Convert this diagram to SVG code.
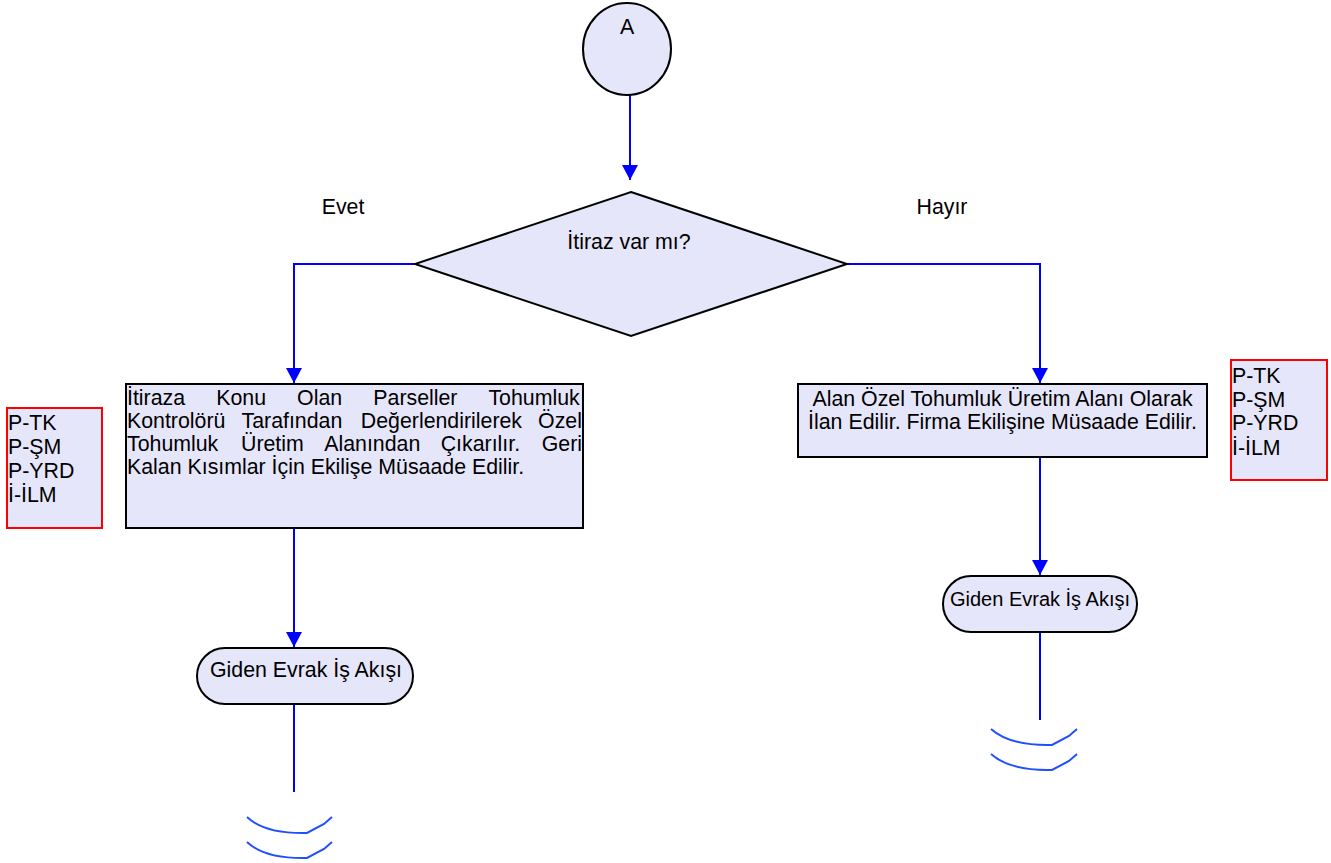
<svg xmlns="http://www.w3.org/2000/svg" width="1331" height="863" viewBox="0 0 1331 863">
<defs>
<style>
.shape{fill:#e6e6fa;stroke:#000;stroke-width:2}
.note{fill:#e6e6fa;stroke:#ff0000;stroke-width:2}
.t{font-family:"Liberation Sans",Arial,sans-serif;font-size:21.33px;fill:#000}
.c{text-anchor:middle}
.e{text-anchor:end}
.conn{fill:none;stroke:#0000ff;stroke-width:2}
.off{fill:none;stroke:#1f4fff;stroke-width:2}
</style>
<marker id="arr" markerWidth="15" markerHeight="16" refX="15" refY="8" orient="auto" markerUnits="userSpaceOnUse">
<path d="M0,0 L15,8 L0,16 Z" fill="#0000ff"/>
</marker>
</defs>
<rect width="1331" height="863" fill="#fff"/>

<g id="connectors">
<line class="conn" x1="630" y1="95" x2="630" y2="180" marker-end="url(#arr)"/>
<polyline class="conn" points="415,264 294,264 294,383" marker-end="url(#arr)"/>
<polyline class="conn" points="847,264 1040,264 1040,383" marker-end="url(#arr)"/>
<line class="conn" x1="294" y1="528" x2="294" y2="647" marker-end="url(#arr)"/>
<line class="conn" x1="1040" y1="457" x2="1040" y2="575" marker-end="url(#arr)"/>
<line class="conn" x1="294" y1="704" x2="294" y2="792"/>
<line class="conn" x1="1040" y1="632" x2="1040" y2="720"/>
<text class="t c" x="343" y="214">Evet</text>
<text class="t c" x="942" y="214">Hayır</text>
</g>

<g id="connector-A">
<ellipse class="shape" cx="627" cy="49" rx="44" ry="46"/>
<text class="t c" x="627" y="34">A</text>
</g>

<g id="decision">
<polygon class="shape" points="631,192 847,264 631,336 415,264"/>
<text class="t c" x="629" y="249">İtiraz var mı?</text>
</g>

<g id="process-evet">
<rect class="shape" x="126" y="384" width="457" height="144"/>
<text class="t" y="404.5"><tspan x="127">İtiraza</tspan><tspan x="216.2">Konu</tspan><tspan x="297.1">Olan</tspan><tspan x="373.3">Parseller</tspan><tspan x="488.4">Tohumluk</tspan></text>
<text class="t" y="427.5"><tspan x="127">Kontrolörü</tspan><tspan x="241.5">Tarafından</tspan><tspan x="360.8">Değerlendirilerek</tspan><tspan x="538.1">Özel</tspan></text>
<text class="t" y="450.5"><tspan x="127">Tohumluk</tspan><tspan x="241">Üretim</tspan><tspan x="324.2">Alanından</tspan><tspan x="440.7">Çıkarılır.</tspan><tspan x="541.7">Geri</tspan></text>
<text class="t" x="127" y="473.5">Kalan Kısımlar İçin Ekilişe Müsaade Edilir.</text>
</g>

<g id="process-hayir">
<rect class="shape" x="798" y="384" width="409" height="73"/>
<text class="t c" x="1002.5" y="406">Alan Özel Tohumluk Üretim Alanı Olarak</text>
<text class="t c" x="1002.5" y="429">İlan Edilir. Firma Ekilişine Müsaade Edilir.</text>
</g>

<g id="note-left">
<rect class="note" x="7" y="408" width="95" height="120"/>
<text class="t" x="8" y="430">P-TK</text>
<text class="t" x="8" y="454">P-ŞM</text>
<text class="t" x="8" y="478">P-YRD</text>
<text class="t" x="8" y="502">İ-İLM</text>
</g>

<g id="note-right">
<rect class="note" x="1231" y="360" width="96" height="120"/>
<text class="t" x="1232" y="383">P-TK</text>
<text class="t" x="1232" y="407">P-ŞM</text>
<text class="t" x="1232" y="430">P-YRD</text>
<text class="t" x="1232" y="455">İ-İLM</text>
</g>

<g id="terminal-left">
<rect class="shape" x="197" y="648" width="216" height="56" rx="28" ry="28"/>
<text class="t c" x="306" y="677">Giden Evrak İş Akışı</text>
</g>

<g id="terminal-right">
<rect class="shape" x="943" y="576" width="194" height="56" rx="28" ry="28"/>
<text class="t c" x="1040" y="606" style="font-size:20px">Giden Evrak İş Akışı</text>
</g>

<g id="offpage-left">
<path class="off" d="M247,817 Q265,834 307,833 L324,824 L332,817"/>
<path class="off" d="M247,842 Q265,859 307,858 L324,849 L332,842"/>
</g>

<g id="offpage-right">
<path class="off" d="M991,729 Q1010,746 1052,745 L1069,736 L1077,729"/>
<path class="off" d="M991,754 Q1010,771 1052,770 L1069,761 L1077,754"/>
</g>
</svg>
